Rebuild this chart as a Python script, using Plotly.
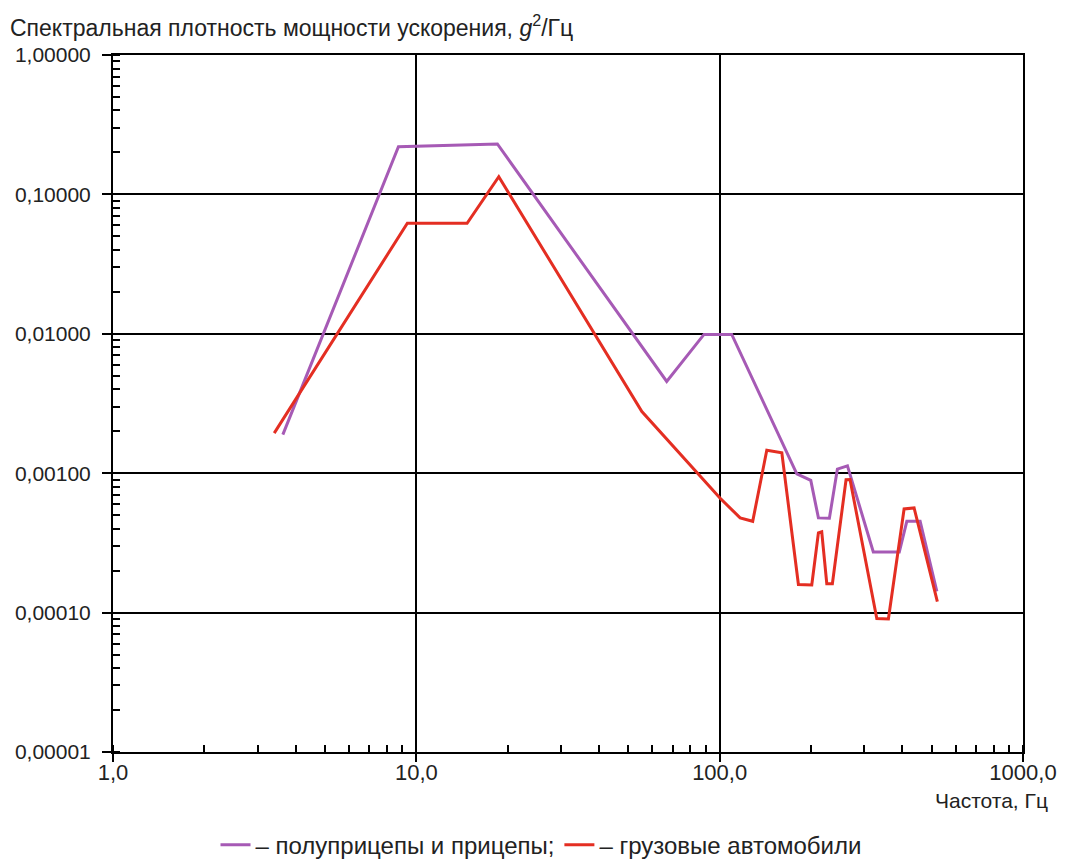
import plotly.graph_objects as go

# Purple: semi-trailers and trailers
trailer_freq = [3.63, 8.73, 18.5, 66.9, 88.8, 109.6, 179.6, 199.7, 211.6, 230, 244.4, 263.8, 321, 391, 414, 458, 520]
trailer_psd = [0.00189, 0.220, 0.230, 0.00455, 0.00990, 0.00990, 0.00099, 0.000888, 0.000478, 0.000475, 0.00107, 0.00113, 0.000272, 0.000272, 0.000452, 0.000452, 0.000142]

# Red: trucks
truck_freq = [3.40, 9.34, 14.7, 18.7, 55.4, 100.2, 116.8, 128.5, 143, 160.3, 181.8, 201.2, 211.6, 217, 225.5, 235.3, 261, 269, 329.6, 360, 405.5, 437.5, 522]
truck_psd = [0.00194, 0.0621, 0.0621, 0.134, 0.00277, 0.000664, 0.000478, 0.000452, 0.00146, 0.00140, 0.000159, 0.000158, 0.000373, 0.000380, 0.000161, 0.000161, 0.000898, 0.000900, 0.0000906, 0.0000900, 0.000554, 0.000563, 0.000120]

x_tickvals = [1, 10, 100, 1000]
x_ticktext = ["1,0", "10,0", "100,0", "1000,0"]
y_tickvals = [1, 0.1, 0.01, 0.001, 0.0001, 0.00001]
y_ticktext = ["1,00000", "0,10000", "0,01000", "0,00100", "0,00010", "0,00001"]

FONT = "Liberation Sans, Arial, sans-serif"
TXT = "#222222"

fig = go.Figure()
fig.add_trace(go.Scatter(x=trailer_freq, y=trailer_psd, mode="lines",
                         line=dict(color="#a65ab5", width=3),
                         name="– полуприцепы и прицепы;"))
fig.add_trace(go.Scatter(x=truck_freq, y=truck_psd, mode="lines",
                         line=dict(color="#e42e22", width=3),
                         name="– грузовые автомобили"))

fig.update_layout(
    width=1066, height=864,
    margin=dict(l=105, r=51, t=47, b=120, autoexpand=False),
    paper_bgcolor="white", plot_bgcolor="white",
    font=dict(family=FONT, size=20, color=TXT),
    showlegend=True,
    legend=dict(orientation="h", x=0.5, xanchor="center", xref="container",
                y=0.031, yanchor="middle", yref="container",
                font=dict(family=FONT, size=24, color=TXT),
                itemwidth=30, tracegroupgap=0, bgcolor="rgba(0,0,0,0)"),
)

fig.update_xaxes(type="log", range=[0, 3],
                 tickvals=x_tickvals, ticktext=x_ticktext,
                 showgrid=True, gridcolor="black", gridwidth=2,
                 showline=True, linecolor="black", linewidth=2, mirror=True,
                 ticks="outside", ticklen=8, tickwidth=2, tickcolor="black",
                 ticklabelstandoff=-8,
                 tickfont=dict(family=FONT, size=22, color=TXT),
                 minor=dict(ticks="inside", ticklen=7, tickwidth=1.5, tickcolor="black",
                            dtick="D1", showgrid=False),
                 zeroline=False, automargin=False)
fig.update_yaxes(type="log", range=[-5, 0],
                 tickvals=y_tickvals, ticktext=y_ticktext,
                 showgrid=True, gridcolor="black", gridwidth=2,
                 showline=True, linecolor="black", linewidth=2, mirror=True,
                 ticks="outside", ticklen=9, tickwidth=2, tickcolor="black",
                 ticklabelstandoff=7,
                 tickfont=dict(family=FONT, size=21, color=TXT),
                 minor=dict(ticks="inside", ticklen=7, tickwidth=1.5, tickcolor="black",
                            dtick="D1", showgrid=False),
                 zeroline=False, automargin=False)

fig.add_annotation(text="Спектральная плотность мощности ускорения, <i>g</i><sup>2</sup>/Гц",
                   xref="paper", yref="paper", x=-0.1154, y=1.066,
                   xanchor="left", yanchor="top", showarrow=False,
                   font=dict(family=FONT, size=23, color=TXT))

fig.add_annotation(text="Частота, Гц", xref="paper", yref="paper",
                   x=1.0297, y=-0.069, xanchor="right", yanchor="middle",
                   showarrow=False, font=dict(family=FONT, size=21, color=TXT))

fig.write_html("out.html")
